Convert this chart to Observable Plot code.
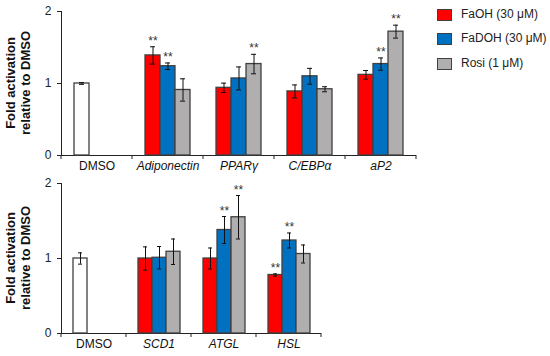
<!DOCTYPE html>
<html>
<head>
<meta charset="utf-8">
<script src="https://cdn.jsdelivr.net/npm/d3@7"></script>
<script src="https://cdn.jsdelivr.net/npm/@observablehq/plot@0.6"></script>
<style>
  body { margin: 0; background: #fff; font-family: "Liberation Sans", Arial, sans-serif; }
  #wrap { position: relative; width: 550px; height: 356px; }
  #wrap svg { display: block; }
  .leg { position: absolute; left: 437px; font-size: 12px; color: #222; }
  .leg .sw { position: absolute; left: 0; width: 13px; height: 10px; border: 1px solid #404040; }
  .leg .lab { position: absolute; left: 24px; top: -8px; white-space: nowrap; }
</style>
</head>
<body>
<div id="wrap"></div>
<script>
// ---- data ----
const slots = ["FaOH", "FaDOH", "Rosi"];
const seriesNames = ["DMSO", "FaOH", "FaDOH", "Rosi"];
const legendLabels = ["FaOH (30 μM)", "FaDOH (30 μM)", "Rosi (1 μM)"];
const seriesColors = ["#ffffff", "#ff0000", "#0070c0", "#b0aeae"];

// top panel
const cats1 = ["DMSO", "Adiponectin", "PPARγ", "C/EBPα", "aP2"];
const dmso1 = 1.0, dmsoErr1 = 0.012;
const faoh1 = [1.39, 0.94, 0.89, 1.12];
const faohErr1 = [0.12, 0.065, 0.09, 0.06];
const faohSig1 = [true, false, false, false];
const fadoh1 = [1.24, 1.07, 1.10, 1.27];
const fadohErr1 = [0.045, 0.16, 0.11, 0.085];
const fadohSig1 = [true, false, false, true];
const rosi1 = [0.91, 1.27, 0.92, 1.72];
const rosiErr1 = [0.155, 0.135, 0.035, 0.09];
const rosiSig1 = [false, true, false, true];

// bottom panel
const cats2 = ["DMSO", "SCD1", "ATGL", "HSL"];
const dmso2 = 1.0, dmsoErr2 = 0.075;
const faoh2 = [1.0, 1.0, 0.78];
const faohErr2 = [0.155, 0.14, 0.015];
const faohSig2 = [false, false, true];
const fadoh2 = [1.01, 1.38, 1.24];
const fadohErr2 = [0.15, 0.18, 0.1];
const fadohSig2 = [false, true, true];
const rosi2 = [1.09, 1.55, 1.06];
const rosiErr2 = [0.17, 0.29, 0.12];
const rosiSig2 = [false, true, false];

const yTicks = [0, 1, 2];

function buildRows(cats, dmso, dmsoErr, series) {
  const rows = [{cat: cats[0], slot: slots[0], series: "DMSO", value: dmso, err: dmsoErr, sig: false}];
  cats.slice(1).forEach((c, i) => {
    series.forEach((s, k) => {
      rows.push({cat: c, slot: slots[k], series: slots[k], value: s.v[i], err: s.e[i], sig: s.s[i]});
    });
  });
  return rows;
}

function makeChart(cats, rows, o) {
  const chart = Plot.plot({
    width: 550, height: o.height,
    marginLeft: 59, marginRight: o.marginRight, marginTop: o.marginTop, marginBottom: o.marginBottom,
    style: {fontFamily: '"Liberation Sans", Arial, sans-serif', fontSize: "12px", color: "#222", background: "white"},
    fx: {domain: cats, padding: 0, axis: null, label: null},
    x: {domain: slots, paddingInner: 0, paddingOuter: o.po, axis: null},
    y: {domain: [0, 2], ticks: yTicks, tickFormat: d => String(d), tickSize: 4, tickPadding: 6, line: true, label: null},
    color: {domain: seriesNames, range: seriesColors},
    marks: [
      Plot.ruleY([0], {stroke: "#222"}),
      Plot.barY(rows, {fx: "cat", x: "slot", y: "value", fill: "series", stroke: "#404040", strokeWidth: 1.3}),
      Plot.ruleX(rows, {fx: "cat", x: "slot", y1: d => d.value - d.err, y2: d => d.value + d.err, stroke: "#111", strokeWidth: 1}),
      Plot.tickY(rows, {fx: "cat", x: "slot", y: d => d.value + d.err, stroke: "#111", strokeWidth: 1, insetLeft: 5, insetRight: 5}),
      Plot.tickY(rows, {fx: "cat", x: "slot", y: d => d.value - d.err, stroke: "#111", strokeWidth: 1, insetLeft: 5, insetRight: 5}),
      Plot.text(rows.filter(d => d.sig), {fx: "cat", x: "slot", y: d => d.value + d.err, text: () => "**", fontSize: 12, lineAnchor: "bottom", dy: -2, fill: "#333"}),
      Plot.text(cats.slice(0, 1), {fx: d => d, text: d => d, frameAnchor: "bottom", dy: 14, fontSize: 12, fill: "#111"}),
      Plot.text(cats.slice(1), {fx: d => d, text: d => d, frameAnchor: "bottom", dy: 14, fontSize: 12, fontStyle: "italic", fill: "#111"})
    ]
  });
  // category boundary ticks and y label, using Plot's scales
  const svg = d3.select(chart);
  const fx = chart.scale("fx"), y = chart.scale("y");
  const y0 = y.apply(0);
  const edges = cats.map(c => fx.apply(c));
  edges.push(fx.apply(cats[cats.length - 1]) + fx.bandwidth);
  svg.append("g").selectAll("line").data(edges).join("line")
    .attr("x1", d => d).attr("x2", d => d).attr("y1", y0).attr("y2", y0 + 4)
    .attr("stroke", "#222");
  const t = svg.append("text")
    .attr("transform", `translate(17.75,${y.apply(1)}) rotate(-90)`)
    .attr("text-anchor", "middle").attr("font-weight", "bold").attr("font-size", 13).attr("fill", "#111");
  t.append("tspan").attr("x", 0).attr("y", -7.75).attr("dominant-baseline", "central").text("Fold activation");
  t.append("tspan").attr("x", 0).attr("y", 7.75).attr("dominant-baseline", "central").text("relative to DMSO");
  return chart;
}

const rows1 = buildRows(cats1, dmso1, dmsoErr1, [
  {v: faoh1, e: faohErr1, s: faohSig1}, {v: fadoh1, e: fadohErr1, s: fadohSig1}, {v: rosi1, e: rosiErr1, s: rosiSig1}]);
const rows2 = buildRows(cats2, dmso2, dmsoErr2, [
  {v: faoh2, e: faohErr2, s: faohSig2}, {v: fadoh2, e: fadohErr2, s: fadohSig2}, {v: rosi2, e: rosiErr2, s: rosiSig2}]);

const wrap = document.getElementById("wrap");
wrap.append(makeChart(cats1, rows1, {height: 176, marginRight: 132.5, marginTop: 11, marginBottom: 21, po: 0.82}));
wrap.append(makeChart(cats2, rows2, {height: 180, marginRight: 227.5, marginTop: 7, marginBottom: 23, po: 0.72}));

// legend
const legTops = [14.5, 39, 63.5];
legendLabels.forEach((lab, i) => {
  const div = document.createElement("div");
  div.className = "leg";
  div.style.top = legTops[i] + "px";
  div.innerHTML = `<div class="sw" style="top:-6px;background:${seriesColors[i + 1]}"></div><div class="lab"></div>`;
  div.querySelector(".lab").textContent = lab;
  wrap.append(div);
});
</script>
</body>
</html>
